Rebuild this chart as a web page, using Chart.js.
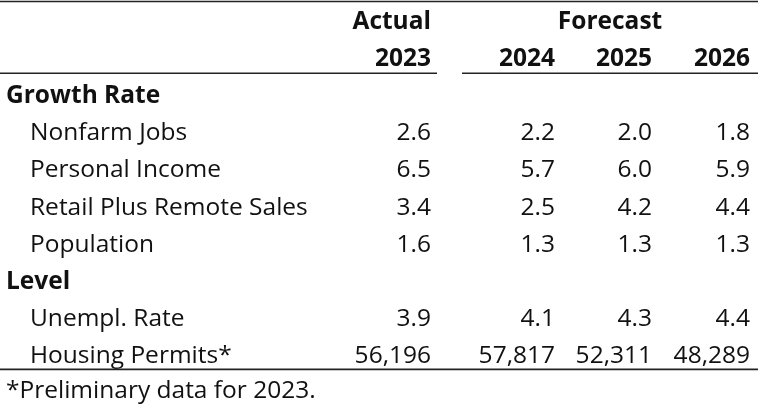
<!DOCTYPE html>
<html>
<head>
<meta charset="utf-8">
<script src="https://cdn.jsdelivr.net/npm/chart.js@4"></script>
<style>
  body { margin: 0; background: #fff; }
  #wrap { width: 760px; height: 408px; position: relative; }
</style>
</head>
<body>
<div id="wrap"><canvas id="tabla"></canvas></div>
<script>
// datos de la tabla
const years = ['2023', '2024', '2025', '2026']
const growthLabels = ['Nonfarm Jobs', 'Personal Income', 'Retail Plus Remote Sales', 'Population']
const nonfarmJobs = [2.6, 2.2, 2.0, 1.8]
const personalIncome = [6.5, 5.7, 6.0, 5.9]
const retailSales = [3.4, 2.5, 4.2, 4.4]
const population = [1.6, 1.3, 1.3, 1.3]
const levelLabels = ['Unempl. Rate', 'Housing Permits*']
const unemplRate = [3.9, 4.1, 4.3, 4.4]
const housingPermits = [56196, 57817, 52311, 48289]
const footnote = '*Preliminary data for 2023.'

// filas: [tipo, etiqueta, valores, formato]
const filas = [
  ['header1', 'Actual', null],
  ['header2', '', null],
  ['group', 'Growth Rate', null],
  ['item', growthLabels[0], nonfarmJobs, 'dec'],
  ['item', growthLabels[1], personalIncome, 'dec'],
  ['item', growthLabels[2], retailSales, 'dec'],
  ['item', growthLabels[3], population, 'dec'],
  ['group', 'Level', null],
  ['item', levelLabels[0], unemplRate, 'dec'],
  ['item', levelLabels[1], housingPermits, 'int'],
  ['note', footnote, null]
]

const colRight = [431, 555, 652, 750]
const fuente = '"Open Sans", sans-serif'
const tam = 24.5

const formatear = (v, f) => f === 'int' ? v.toLocaleString('en-US') : v.toFixed(1)

const tablaPlugin = {
  id: 'tabla',
  afterDraw(chart) {
    const ctx = chart.ctx
    const y = chart.scales.y
    const rowY = i => y.getPixelForValue(i)
    const borde = i => (rowY(i) + rowY(i + 1)) / 2

    ctx.save()
    ctx.fillStyle = '#111'
    ctx.textBaseline = 'alphabetic'

    filas.forEach((fila, i) => {
      const [tipo, etiqueta, valores, formato] = fila
      const py = rowY(i) + (tipo === 'note' ? 8.5 : 10.5)
      if (tipo === 'header1') {
        ctx.font = `bold ${tam}px ${fuente}`
        ctx.textAlign = 'right'
        ctx.fillText(etiqueta, colRight[0], py)
        ctx.textAlign = 'center'
        ctx.fillText('Forecast', 610, py)
      } else if (tipo === 'header2') {
        ctx.font = `bold ${tam}px ${fuente}`
        ctx.textAlign = 'right'
        years.forEach((yr, j) => ctx.fillText(yr, colRight[j], py))
      } else if (tipo === 'group') {
        ctx.font = `bold ${tam}px ${fuente}`
        ctx.textAlign = 'left'
        ctx.fillText(etiqueta, 6, py)
      } else if (tipo === 'item') {
        ctx.font = `${tam}px ${fuente}`
        ctx.textAlign = 'left'
        ctx.fillText(etiqueta, 30, py)
        ctx.textAlign = 'right'
        valores.forEach((v, j) => ctx.fillText(formatear(v, formato), colRight[j], py))
      } else {
        ctx.font = `${tam}px ${fuente}`
        ctx.textAlign = 'left'
        ctx.fillText(etiqueta, 6, py)
      }
    })

    // lineas
    ctx.strokeStyle = '#222'
    ctx.lineWidth = 1.6
    const linea = (x1, x2, py) => {
      ctx.beginPath()
      ctx.moveTo(x1, py)
      ctx.lineTo(x2, py)
      ctx.stroke()
    }
    linea(0, 758, 1.5)
    const yHead = borde(1) - 1
    linea(0, 437, yHead)
    linea(462, 758, yHead)
    linea(0, 758, borde(9) - 1.5)
    ctx.restore()
  }
}

new Chart(document.getElementById('tabla'), {
  type: 'scatter',
  data: { datasets: [{ data: [] }] },
  options: {
    responsive: true,
    maintainAspectRatio: false,
    animation: false,
    layout: { padding: 0 },
    plugins: { legend: { display: false }, tooltip: { enabled: false } },
    scales: {
      x: { type: 'linear', display: false, min: 0, max: 760 },
      y: {
        type: 'category',
        labels: filas.map((f, i) => i),
        offset: true,
        display: false
      }
    }
  },
  plugins: [tablaPlugin]
})
</script>
</body>
</html>
